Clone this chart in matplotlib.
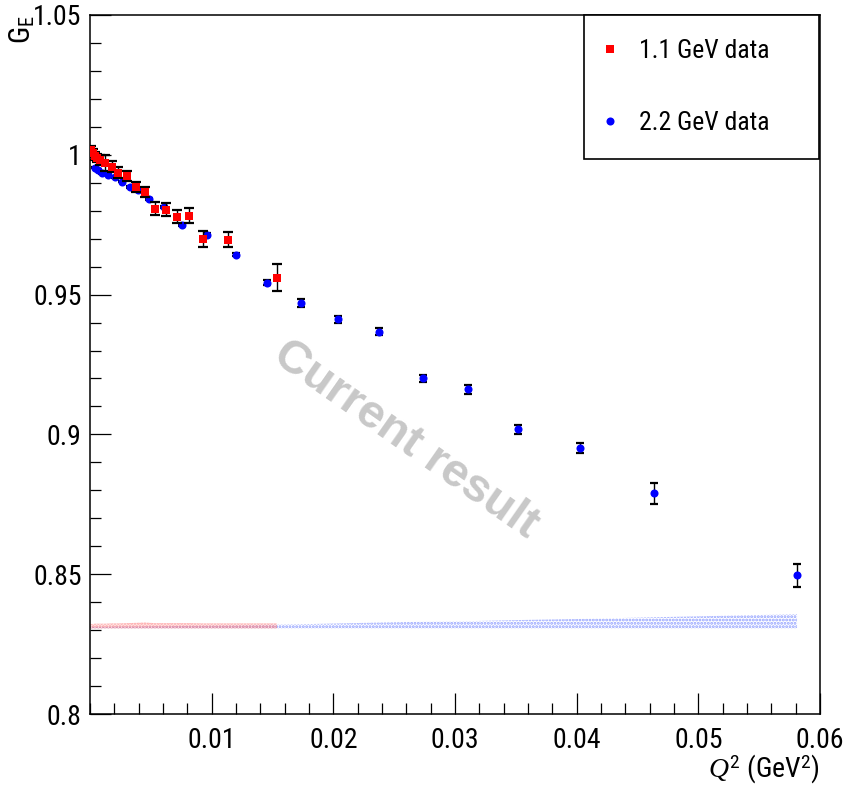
import numpy as np
import matplotlib
matplotlib.use("Agg")
import matplotlib.pyplot as plt
from matplotlib import font_manager
from matplotlib.ticker import MultipleLocator, FixedLocator, FixedFormatter

# pick a narrow Helvetica-like face if one is installed
narrow = 'Liberation Sans'
for cand in ['Nimbus Sans Narrow', 'Liberation Sans Narrow', 'Arial Narrow',
             'Roboto Condensed', 'PT Sans Narrow', 'Archivo Narrow']:
    try:
        font_manager.findfont(cand, fallback_to_default=False)
        narrow = cand
        break
    except Exception:
        pass

plt.rcParams['font.family'] = [narrow, 'Liberation Sans', 'DejaVu Sans']
plt.rcParams['mathtext.fontset'] = 'custom'
plt.rcParams['mathtext.rm'] = narrow
plt.rcParams['mathtext.it'] = 'Liberation Serif:italic'
plt.rcParams['hatch.linewidth'] = 1.4

# 1.1 GeV data (red squares)
q2_11 = [0.00008, 0.00025, 0.00041, 0.00058, 0.00082, 0.00123, 0.00181, 0.0023,
         0.00304, 0.00378, 0.00452, 0.00534, 0.00625, 0.00715, 0.00814, 0.00929,
         0.01134, 0.01537]
ge_11 = [1.0018, 1.0007, 0.9996, 0.9989, 0.9982, 0.9971, 0.9957, 0.9936,
         0.9925, 0.9886, 0.9868, 0.9807, 0.9804, 0.9779, 0.9782, 0.9700,
         0.9696, 0.9561]
err_11 = [0.0015, 0.0015, 0.0015, 0.0015, 0.0018, 0.0030, 0.0020, 0.0020,
          0.0018, 0.0018, 0.0018, 0.0023, 0.0023, 0.0022, 0.0027, 0.0029,
          0.0027, 0.0048]
sys_11 = [0.0017, 0.0017, 0.0018, 0.0018, 0.0018, 0.0018, 0.0019, 0.0019,
          0.0020, 0.0021, 0.0022, 0.0020, 0.0020, 0.0020, 0.0020, 0.0019,
          0.0019, 0.0019]

# 2.2 GeV data (blue circles)
q2_22 = [0.00041, 0.00066, 0.00099, 0.00148, 0.00205, 0.00263, 0.00329, 0.00395,
         0.00485, 0.00608, 0.00756, 0.00962, 0.0120, 0.01455, 0.01734, 0.02038,
         0.02375, 0.02737, 0.03107, 0.03518, 0.04027, 0.04635, 0.05811]
ge_22 = [0.9954, 0.9946, 0.9936, 0.9929, 0.9921, 0.9904, 0.9886, 0.9875,
         0.9843, 0.9814, 0.9750, 0.9714, 0.9643, 0.9543, 0.9471, 0.9411,
         0.9368, 0.9200, 0.9161, 0.9018, 0.8950, 0.8789, 0.8496]
err_22 = [0.0003, 0.0003, 0.0003, 0.0003, 0.0003, 0.0003, 0.0003, 0.0003,
          0.0003, 0.0004, 0.0004, 0.0005, 0.0005, 0.0008, 0.0014, 0.0013,
          0.0014, 0.0013, 0.0015, 0.0016, 0.0018, 0.0038, 0.0040]
sys_22 = [0.0007, 0.0007, 0.0007, 0.0007, 0.0008, 0.0008, 0.0008, 0.0008,
          0.0009, 0.0009, 0.0010, 0.0011, 0.0012, 0.0014, 0.0016, 0.0019,
          0.0022, 0.0025, 0.0027, 0.0031, 0.0035, 0.0041, 0.0052]

band_base = 0.8305

fig = plt.figure(figsize=(8.44, 7.93), dpi=100)
ax = fig.add_axes([0.1066, 0.0996, 0.865, 0.8815])

# systematic bands
ax.fill_between([0.0] + q2_22, band_base, band_base + np.array([sys_22[0]] + sys_22),
                facecolor='none', edgecolor=(0.3, 0.4, 1.0, 0.62), hatch='.....',
                linewidth=0, zorder=1)
ax.fill_between([0.0] + q2_11, band_base, band_base + np.array([sys_11[0]] + sys_11),
                facecolor=(1.0, 0.7, 0.7, 0.35), edgecolor=(1.0, 0.35, 0.35, 0.5),
                hatch='.....', linewidth=0, zorder=1)

# data points
ax.errorbar(q2_22, ge_22, yerr=err_22, fmt='none', ecolor='black', elinewidth=1.0,
            capsize=3.2, capthick=1.6, zorder=2)
ax.plot(q2_22, ge_22, 'o', color='blue', markersize=5.8, markeredgewidth=0,
        zorder=3, label='2.2 GeV data')
ax.errorbar(q2_11, ge_11, yerr=err_11, fmt='none', ecolor='black', elinewidth=1.0,
            capsize=3.6, capthick=1.6, zorder=4)
ax.plot(q2_11, ge_11, 's', color='red', markersize=5.8, markeredgewidth=0,
        zorder=5, label='1.1 GeV data')

ax.set_xlim(0, 0.06)
ax.set_ylim(0.8, 1.05)

ax.xaxis.set_major_locator(FixedLocator([0.01, 0.02, 0.03, 0.04, 0.05, 0.06]))
ax.xaxis.set_major_formatter(FixedFormatter(['0.01', '0.02', '0.03', '0.04', '0.05', '0.06']))
ax.xaxis.set_minor_locator(MultipleLocator(0.002))
ax.yaxis.set_major_locator(FixedLocator([0.8, 0.85, 0.9, 0.95, 1.0, 1.05]))
ax.yaxis.set_major_formatter(FixedFormatter(['0.8', '0.85', '0.9', '0.95', '1', '1.05']))
ax.yaxis.set_minor_locator(MultipleLocator(0.01))

ax.tick_params(which='both', direction='in', top=False, right=False, width=0.9)
ax.tick_params(which='major', length=15)
ax.tick_params(which='minor', length=8)
ax.tick_params(axis='x', labelsize=20, pad=9)
ax.tick_params(axis='y', labelsize=20, pad=6)
for s in ax.spines.values():
    s.set_linewidth(1.1)

ax.text(-0.093, 1.0, r'G$_{\mathrm{E}}$', rotation=90, ha='center', va='top',
        fontsize=21, transform=ax.transAxes)
ax.text(1.0, -0.078, r'$Q^{2}$ (GeV$^{2}$)', ha='right', va='center',
        fontsize=20, transform=ax.transAxes)

# watermark
ax.text(0.432, 0.392, 'Current result', rotation=-35, ha='center', va='center',
        fontsize=34, fontweight='bold', family='Liberation Sans', color='#c8c8c8',
        transform=ax.transAxes, zorder=0)

h, l = ax.get_legend_handles_labels()
leg = ax.legend(h[::-1], l[::-1], loc='upper left',
                bbox_to_anchor=(0.6767, 0.7954, 0.3219, 0.2046), mode='expand',
                fontsize=18.5, frameon=True, fancybox=False, framealpha=1,
                edgecolor='black', borderpad=0.95, labelspacing=1.85,
                handlelength=0.15, handletextpad=1.05, borderaxespad=0)
leg.get_frame().set_linewidth(1.2)

fig.savefig('out.png', dpi=100)
